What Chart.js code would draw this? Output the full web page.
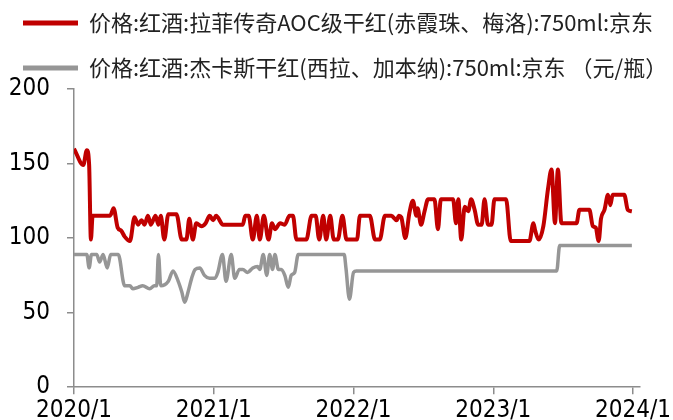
<!DOCTYPE html>
<html lang="zh">
<head>
<meta charset="UTF-8">
<title>红酒价格</title>
<style>
  html, body { margin: 0; padding: 0; background: #fff; overflow: hidden; }
  .chart-box { position: absolute; left: 0; top: -11px; width: 673px; height: 438px; }
</style>
</head>
<body>
<div class="chart-box"><canvas id="wineChart"></canvas></div>

<script src="https://cdn.jsdelivr.net/npm/chart.js"></script>
<script>
  // 月份序号：0 = 2020/1
  const xTickMonths = [0, 12, 24, 36, 48];
  const xTickLabels = ['2020/1', '2021/1', '2022/1', '2023/1', '2024/1'];

  const seriesNames = [
    '价格:红酒:拉菲传奇AOC级干红(赤霞珠、梅洛):750ml:京东',
    '价格:红酒:杰卡斯干红(西拉、加本纳):750ml:京东 （元/瓶）'
  ];

  // 拉菲传奇
  const redMonths = [0, 0.8, 1.1, 1.3, 1.45, 1.6, 3.1, 3.4, 3.75, 4.05, 4.35, 4.8, 5.2, 5.5, 5.8, 6.05, 6.35, 6.6, 7.0, 7.25, 7.45, 7.75,
    8.1, 8.8, 9.25, 9.65, 9.9, 10.2, 10.5, 10.95, 11.3, 11.65, 11.95, 12.2, 12.8, 14.5, 14.7, 15.0, 15.35, 15.7,
    15.95, 16.3, 16.7, 17.0, 17.25, 17.7, 18.1, 18.5, 18.8, 19.1, 19.95, 20.4, 20.75, 21.05, 21.4, 21.65, 22.0, 22.3, 22.65, 23.05, 23.4,
    24.3, 24.55, 25.4, 25.85, 26.25, 26.7, 27.25, 27.7, 27.9, 28.1, 28.45, 28.8, 29.1, 29.4, 29.5, 29.8, 30.1, 30.4, 30.95, 31.25, 31.5,
    32.55, 32.8, 33.0, 33.25, 33.55, 33.85, 34.1, 34.4, 34.7, 35.0, 35.25, 35.55, 35.85, 36.1, 37.1, 37.5, 39.1, 39.45, 39.6, 39.9,
    40.3, 40.7, 41.0, 41.3, 41.55, 41.85, 43.15, 43.4, 44.25, 44.55, 44.8, 45.05, 45.25, 45.55, 45.85, 46.05, 46.25, 47.25, 47.55, 47.9];
  const redPrices = [160, 149, 159, 149, 99, 115, 115, 120, 107, 105, 101, 98, 114, 109, 112, 109, 115, 109, 115, 109, 115, 99,
    116, 116, 99, 99, 113, 99, 110, 108, 110, 115, 112, 115, 109, 109, 115, 115, 99, 115,
    99, 115, 99, 110, 106, 110, 109, 115, 115, 99, 99, 115, 115, 99, 115, 99, 115, 99, 99, 115, 99,
    99, 115, 115, 99, 99, 115, 115, 112, 115, 114, 100, 117, 125, 115, 120, 109, 118, 126, 126, 106, 126,
    126, 110, 126, 99, 121, 118, 126, 119, 109, 109, 126, 109, 109, 126, 126, 98, 98, 110, 105, 99,
    108, 133, 146, 110, 146, 110, 110, 119, 119, 108, 107, 98, 113, 119, 129, 122, 129, 129, 119, 118];

  // 杰卡斯
  const grayMonths = [0, 1.1, 1.3, 1.5, 1.95, 2.2, 2.5, 2.85, 3.15, 3.8, 4.35, 4.8, 5.05, 5.5, 5.9, 6.5, 6.9, 7.1, 7.25, 7.45,
    8.1, 8.5, 8.95, 9.25, 9.5, 9.8, 10.1, 10.4, 10.8, 11.2, 11.65, 12.1, 12.35, 12.75, 13.05, 13.5, 13.8, 14.2, 14.5, 14.9, 15.35, 15.75,
    15.95, 16.25, 16.55, 16.8, 17.05, 17.25, 17.55, 17.8, 18.1, 18.4, 18.65, 18.95, 19.25, 23.2, 23.35, 23.65, 24.0, 24.25,
    41.45, 41.7, 47.9];
  const grayPrices = [89, 89, 80, 89, 89, 84, 89, 80, 89, 89, 68, 68, 66, 67, 68, 66, 68, 68, 89, 68,
    71, 78, 71, 64, 57, 64, 73, 79, 80, 75, 73, 73, 77, 89, 71, 89, 73, 79, 79, 77, 80, 81,
    79, 89, 75, 89, 79, 89, 79, 79, 75, 67, 75, 77, 89, 89, 80, 59, 77, 78,
    78, 95, 95];

  const toPoints = (xs, ys) => xs.map((m, i) => ({ x: m, y: ys[i] }));

  const axisColor = '#8c8c8c';
  const tickFont = { family: "'Liberation Sans Narrow', 'DejaVu Sans Condensed', 'Liberation Sans', sans-serif", size: 24 };

  new Chart(document.getElementById('wineChart'), {
    type: 'line',
    data: {
      datasets: [
        {
          label: seriesNames[0],
          data: toPoints(redMonths, redPrices),
          borderColor: '#c00000',
          backgroundColor: '#c00000',
          borderWidth: 4,
          pointRadius: 0,
          cubicInterpolationMode: 'monotone',
          borderJoinStyle: 'round'
        },
        {
          label: seriesNames[1],
          data: toPoints(grayMonths, grayPrices),
          borderColor: '#969696',
          backgroundColor: '#969696',
          borderWidth: 3.5,
          pointRadius: 0,
          cubicInterpolationMode: 'monotone',
          borderJoinStyle: 'round'
        }
      ]
    },
    options: {
      responsive: true,
      maintainAspectRatio: false,
      animation: false,
      plugins: {
        tooltip: { enabled: false },
        legend: {
          position: 'top',
          align: 'start',
          labels: {
            boxWidth: 55,
            boxHeight: 5,
            padding: 23,
            color: '#222',
            font: { family: "'Noto Sans CJK SC', sans-serif", size: 22 },
            // 图例色块只填充，不描边
            generateLabels: (chart) =>
              Chart.defaults.plugins.legend.labels.generateLabels(chart).map(item => ({ ...item, lineWidth: 0 }))
          }
        }
      },
      scales: {
        x: {
          type: 'linear',
          min: 0,
          max: 48.6,
          afterBuildTicks: (scale) => {
            scale.ticks = xTickMonths.map(v => ({ value: v }));
          },
          ticks: {
            autoSkip: false,
            maxRotation: 0,
            padding: 2,
            color: '#000',
            font: tickFont,
            callback: (value) => xTickLabels[xTickMonths.indexOf(value)]
          },
          grid: { display: true, drawOnChartArea: false, drawTicks: true, tickLength: 7, color: axisColor, lineWidth: 1.5 },
          border: { display: true, color: axisColor, width: 1.5 }
        },
        y: {
          min: 0,
          max: 200,
          afterFit: (scale) => { scale.width = 74; },
          ticks: { stepSize: 50, padding: 17, color: '#000', font: tickFont },
          grid: { display: true, drawOnChartArea: false, drawTicks: true, tickLength: 7, color: axisColor, lineWidth: 1.5 },
          border: { display: true, color: axisColor, width: 1.5 }
        }
      }
    }
  });
</script>
</body>
</html>
